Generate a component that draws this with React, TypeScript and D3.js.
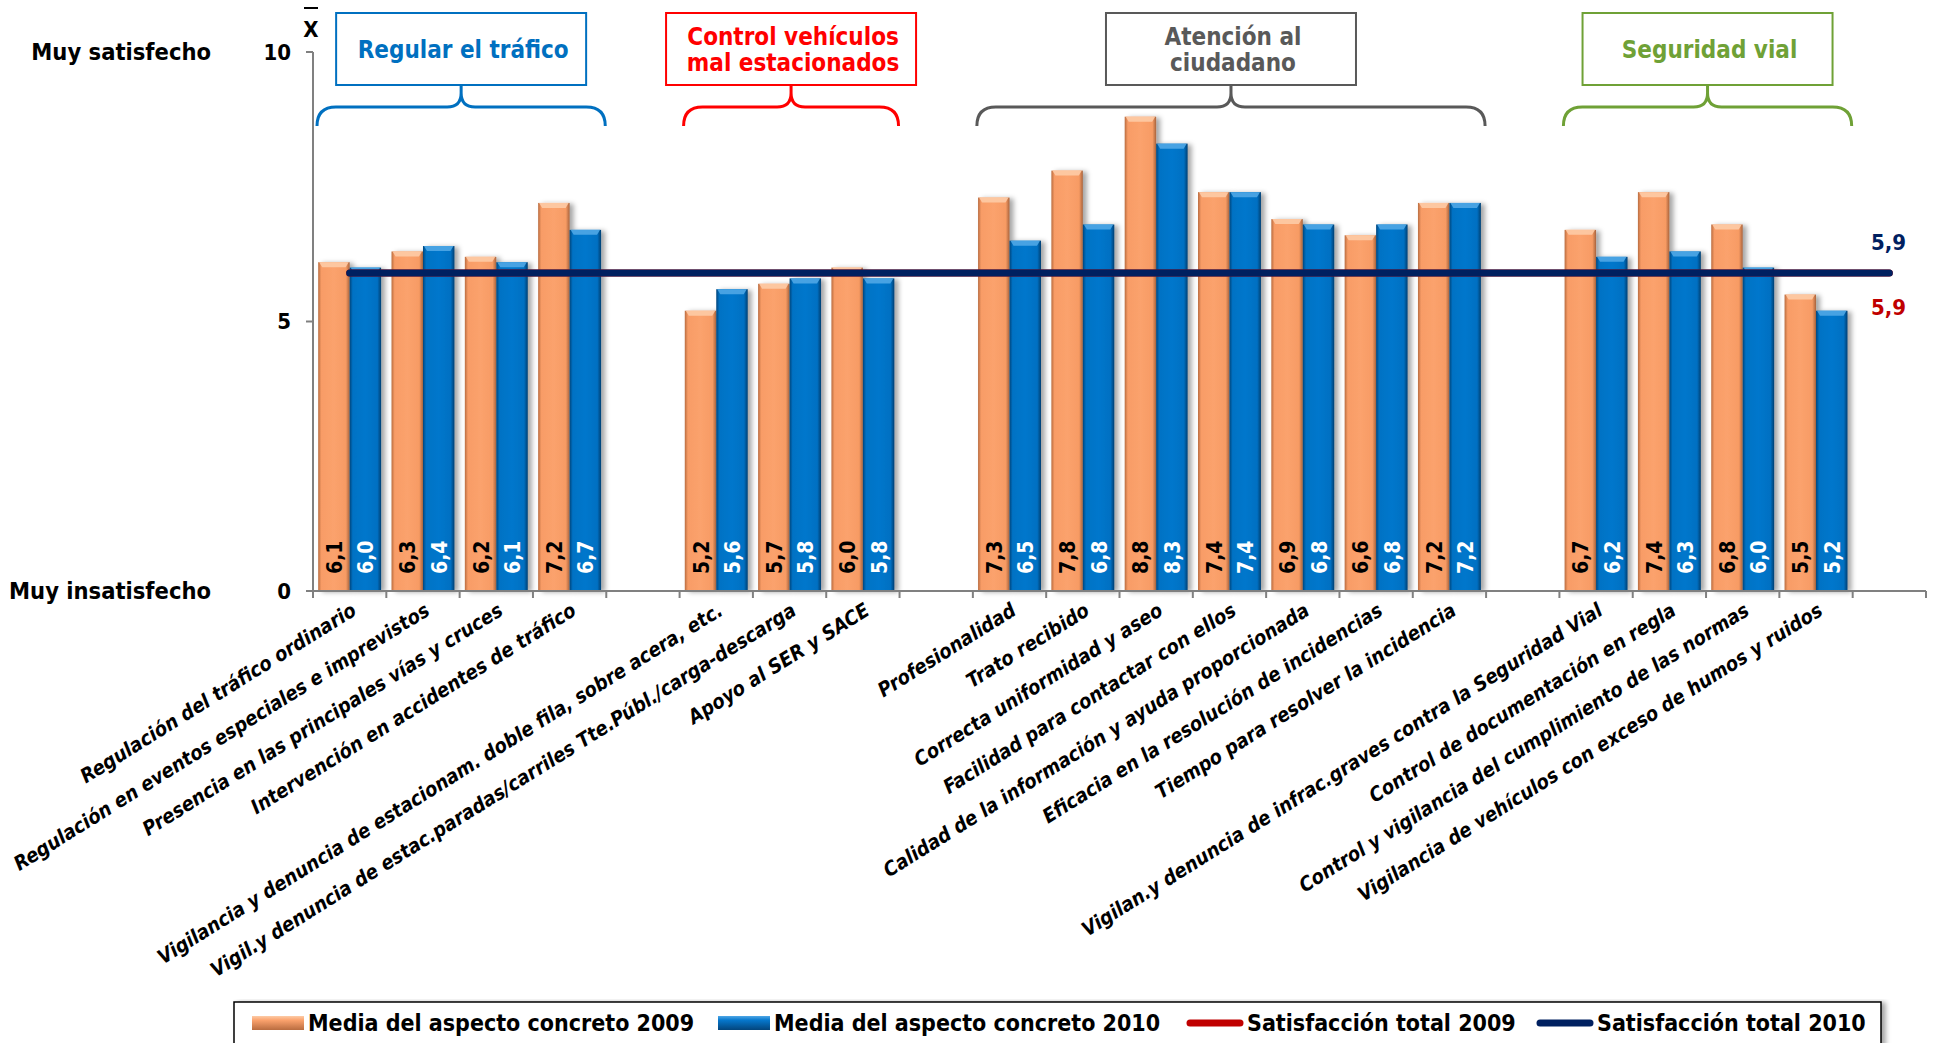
import { useEffect } from 'react'
import * as d3 from 'd3'

// aspects, with empty slots between the groups
const categories = [
  'Regulación del tráfico ordinario',
  'Regulación en eventos especiales e imprevistos',
  'Presencia en las principales vías y cruces',
  'Intervención en accidentes de tráfico',
  '',
  'Vigilancia y denuncia de estacionam. doble fila, sobre acera, etc.',
  'Vigil.y denuncia de estac.paradas/carriles Tte.Públ./carga-descarga',
  'Apoyo al SER y SACE',
  '',
  'Profesionalidad',
  'Trato recibido',
  'Correcta uniformidad y aseo',
  'Facilidad para contactar con ellos',
  'Calidad de la información y ayuda proporcionada',
  'Eficacia en la resolución de incidencias',
  'Tiempo para resolver la incidencia',
  '',
  'Vigilan.y denuncia de infrac.graves contra la Seguridad Vial',
  'Control de documentación en regla',
  'Control y vigilancia del cumplimiento de las normas',
  'Vigilancia de vehículos con exceso de humos y ruidos',
  '',
]

const media2009 = [6.1, 6.3, 6.2, 7.2, null, 5.2, 5.7, 6.0, null, 7.3, 7.8, 8.8, 7.4, 6.9, 6.6, 7.2, null, 6.7, 7.4, 6.8, 5.5, null]
const media2010 = [6.0, 6.4, 6.1, 6.7, null, 5.6, 5.8, 5.8, null, 6.5, 6.8, 8.3, 7.4, 6.8, 6.8, 7.2, null, 6.2, 6.3, 6.0, 5.2, null]

const total2009 = 5.9
const total2010 = 5.9

const yTicks = [0, 5, 10]

const groupTitles = [['Regular el tráfico'], ['Control vehículos', 'mal estacionados'], ['Atención al', 'ciudadano'], ['Seguridad vial']]
const groupFirst = [0, 5, 9, 17]
const groupLast = [3, 7, 15, 20]
const groupColors = ['#0070C0', '#FF0000', '#595959', '#6FA136']

const legendLabels = ['Media del aspecto concreto 2009', 'Media del aspecto concreto 2010', 'Satisfacción total 2009', 'Satisfacción total 2010']

const FONT = "Tahoma, 'DejaVu Sans Condensed', 'DejaVu Sans', sans-serif"
const ORANGE = '#FBA26D'
const BLUE = '#0677CC'
const RED = '#C00000'
const NAVY = '#002060'

const W = 1933
const H = 1043

const fmt = (v: number) => d3.format('.1f')(v).replace('.', ',')

function bracePath(x0: number, x1: number) {
  const yEnd = 126
  const yBar = 107
  const yTip = 86
  const r = 19
  const rm = 14
  const mid = (x0 + x1) / 2
  return [
    `M${x0},${yEnd}`,
    `Q${x0},${yBar} ${x0 + r},${yBar}`,
    `L${mid - rm},${yBar}`,
    `Q${mid},${yBar} ${mid},${yBar - rm}`,
    `L${mid},${yTip}`,
    `M${mid},${yBar - rm}`,
    `Q${mid},${yBar} ${mid + rm},${yBar}`,
    `L${x1 - r},${yBar}`,
    `Q${x1},${yBar} ${x1},${yEnd}`,
  ].join(' ')
}

export default function App() {
  useEffect(() => {
    document.body.style.margin = '0'
  }, [])

  const x = d3.scaleBand<number>()
    .domain(d3.range(categories.length))
    .range([313, 1926])
    .paddingInner(0)
    .paddingOuter(0)

  const xSub = d3.scaleBand<string>()
    .domain(['2009', '2010'])
    .range([0, x.bandwidth()])
    .paddingInner(0)
    .paddingOuter(0.165)

  const y = d3.scaleLinear().domain([0, 10]).range([591, 52])

  const cx = (i: number) => x(i)! + x.bandwidth() / 2
  const totalLine = d3.line<number>().x(d => d).y(() => 0)
  const lineXs = [cx(0), cx(categories.length - 1)]

  const series = [
    { key: '2009', values: media2009, fill: 'url(#gOrange)', cap: '#FDCBA6', text: '#000' },
    { key: '2010', values: media2010, fill: 'url(#gBlue)', cap: '#4FA7E6', text: '#fff' },
  ]

  const bw = xSub.bandwidth()

  // legend layout
  const legendX = [252, 718, 1187, 1537]
  const legendY = 1023

  return (
    <svg width={W} height={H} style={{ display: 'block', background: '#fff' }} fontFamily={FONT}>
      <defs>
        <linearGradient id="gOrange" x1="0" x2="1" y1="0" y2="0">
          <stop offset="0%" stopColor="#B96C40" />
          <stop offset="10%" stopColor="#F89C66" />
          <stop offset="50%" stopColor={ORANGE} />
          <stop offset="88%" stopColor="#F79B64" />
          <stop offset="100%" stopColor="#A8633C" />
        </linearGradient>
        <linearGradient id="gBlue" x1="0" x2="1" y1="0" y2="0">
          <stop offset="0%" stopColor="#03457C" />
          <stop offset="10%" stopColor="#0672C4" />
          <stop offset="50%" stopColor={BLUE} />
          <stop offset="88%" stopColor="#0570C2" />
          <stop offset="100%" stopColor="#023F72" />
        </linearGradient>
        <linearGradient id="gOrangeV" x1="0" x2="0" y1="0" y2="1">
          <stop offset="0%" stopColor="#FDCBA6" />
          <stop offset="30%" stopColor={ORANGE} />
          <stop offset="100%" stopColor="#B96C40" />
        </linearGradient>
        <linearGradient id="gBlueV" x1="0" x2="0" y1="0" y2="1">
          <stop offset="0%" stopColor="#4FA7E6" />
          <stop offset="30%" stopColor={BLUE} />
          <stop offset="100%" stopColor="#03457C" />
        </linearGradient>
        <filter id="shadow" x="-20%" y="-5%" width="160%" height="110%">
          <feDropShadow dx="4" dy="1" stdDeviation="2.5" floodColor="#000" floodOpacity="0.35" />
        </filter>
      </defs>

      {/* side captions */}
      <g fontWeight="bold" fontSize={23.5} fill="#000" textAnchor="end" dominantBaseline="central">
        <text x={211} y={y(10)}>Muy satisfecho</text>
        <text x={211} y={y(0)}>Muy insatisfecho</text>
      </g>

      {/* x bar symbol */}
      <text x={311} y={37} textAnchor="middle" fontWeight="bold" fontSize={22}>X</text>
      <line x1={304} x2={318} y1={8} y2={8} stroke="#000" strokeWidth={2} />

      {/* group brackets */}
      {groupTitles.map((lines, gi) => {
        const x0 = x(groupFirst[gi])! + 4
        const x1 = x(groupLast[gi])! + x.bandwidth() - 1
        const mid = (x0 + x1) / 2
        const bx = mid - 125
        return (
          <g key={gi}>
            <path d={bracePath(x0, x1)} fill="none" stroke={groupColors[gi]} strokeWidth={3} />
            <rect x={bx} y={13} width={250} height={72} fill="#fff" stroke={groupColors[gi]} strokeWidth={2} />
            {lines.map((t, li) => (
              <text
                key={li}
                x={mid + 2}
                y={lines.length === 1 ? 58 : 45 + li * 26}
                textAnchor="middle"
                fontWeight="bold"
                fontSize={24}
                fill={groupColors[gi]}
              >
                {t}
              </text>
            ))}
          </g>
        )
      })}

      {/* y axis */}
      <line x1={313} x2={313} y1={y(10)} y2={y(0)} stroke="#808080" strokeWidth={2} />
      {yTicks.map(t => (
        <g key={t}>
          <line x1={306} x2={313} y1={y(t)} y2={y(t)} stroke="#808080" strokeWidth={2} />
          <text x={291} y={y(t)} textAnchor="end" dominantBaseline="central" fontWeight="bold" fontSize={22}>{t}</text>
        </g>
      ))}

      {/* bars */}
      {series.map(s => (
        <g key={s.key}>
          {s.values.map((v, i) => {
            if (v == null) return null
            const bx = x(i)! + xSub(s.key)!
            const by = y(v)
            return (
              <g key={i}>
                <rect x={bx} y={by} width={bw} height={y(0) - by} fill={s.fill} filter="url(#shadow)" />
                <path
                  d={`M${bx + 1},${by} L${bx + bw - 1},${by} L${bx + bw - 4},${by + 5} L${bx + 4},${by + 5} Z`}
                  fill={s.cap}
                  opacity={0.9}
                />
              </g>
            )
          })}
        </g>
      ))}

      {/* value labels */}
      {series.map(s => (
        <g key={s.key} fontWeight="bold" fontSize={21} fill={s.text}>
          {s.values.map((v, i) => {
            if (v == null) return null
            const tx = x(i)! + xSub(s.key)! + bw / 2 + 1
            return (
              <text key={i} transform={`translate(${tx},${y(0) - 17}) rotate(-90)`} dominantBaseline="central">
                {fmt(v)}
              </text>
            )
          })}
        </g>
      ))}

      {/* x axis */}
      <line x1={306} x2={1926} y1={y(0)} y2={y(0)} stroke="#808080" strokeWidth={2} />
      {d3.range(categories.length + 1).map(i => {
        const tx = i < categories.length ? x(i)! : x(categories.length - 1)! + x.bandwidth()
        return <line key={i} x1={tx} x2={tx} y1={y(0)} y2={y(0) + 7} stroke="#808080" strokeWidth={2} />
      })}
      <g fontWeight="bold" fontStyle="italic" fontSize={20} textAnchor="end" fill="#000">
        {categories.map((c, i) => (c ? (
          <text key={i} transform={`translate(${cx(i) + 8},${614}) rotate(-32)`}>{c}</text>
        ) : null))}
      </g>

      {/* totals */}
      <path
        d={totalLine(lineXs)!}
        transform={`translate(0,${y(total2009)})`}
        fill="none"
        stroke={RED}
        strokeWidth={7}
        strokeLinecap="round"
      />
      <path
        d={totalLine(lineXs)!}
        transform={`translate(0,${y(total2010)})`}
        fill="none"
        stroke={NAVY}
        strokeWidth={7}
        strokeLinecap="round"
      />
      <text x={1871} y={y(total2010) - 30} dominantBaseline="central" fontWeight="bold" fontSize={22} fill={NAVY}>
        {fmt(total2010)}
      </text>
      <text x={1871} y={y(total2009) + 35} dominantBaseline="central" fontWeight="bold" fontSize={22} fill={RED}>
        {fmt(total2009)}
      </text>

      {/* legend */}
      <rect x={234} y={1002} width={1647} height={44} fill="#fff" stroke="#000" strokeWidth={1.5} filter="url(#shadow)" />
      <g fontWeight="bold" fontSize={23} dominantBaseline="central">
        {legendLabels.map((l, i) => {
          const lx = legendX[i]
          const isBar = i < 2
          const sw = isBar ? 52 : 56
          return (
            <g key={l}>
              {isBar ? (
                <rect x={lx} y={legendY - 7} width={sw} height={14} fill={i === 0 ? 'url(#gOrangeV)' : 'url(#gBlueV)'} />
              ) : (
                <line x1={lx + 3} x2={lx + sw - 3} y1={legendY} y2={legendY} stroke={i === 2 ? RED : NAVY} strokeWidth={7} strokeLinecap="round" />
              )}
              <text x={lx + sw + 4} y={legendY}>{l}</text>
            </g>
          )
        })}
      </g>
    </svg>
  )
}
